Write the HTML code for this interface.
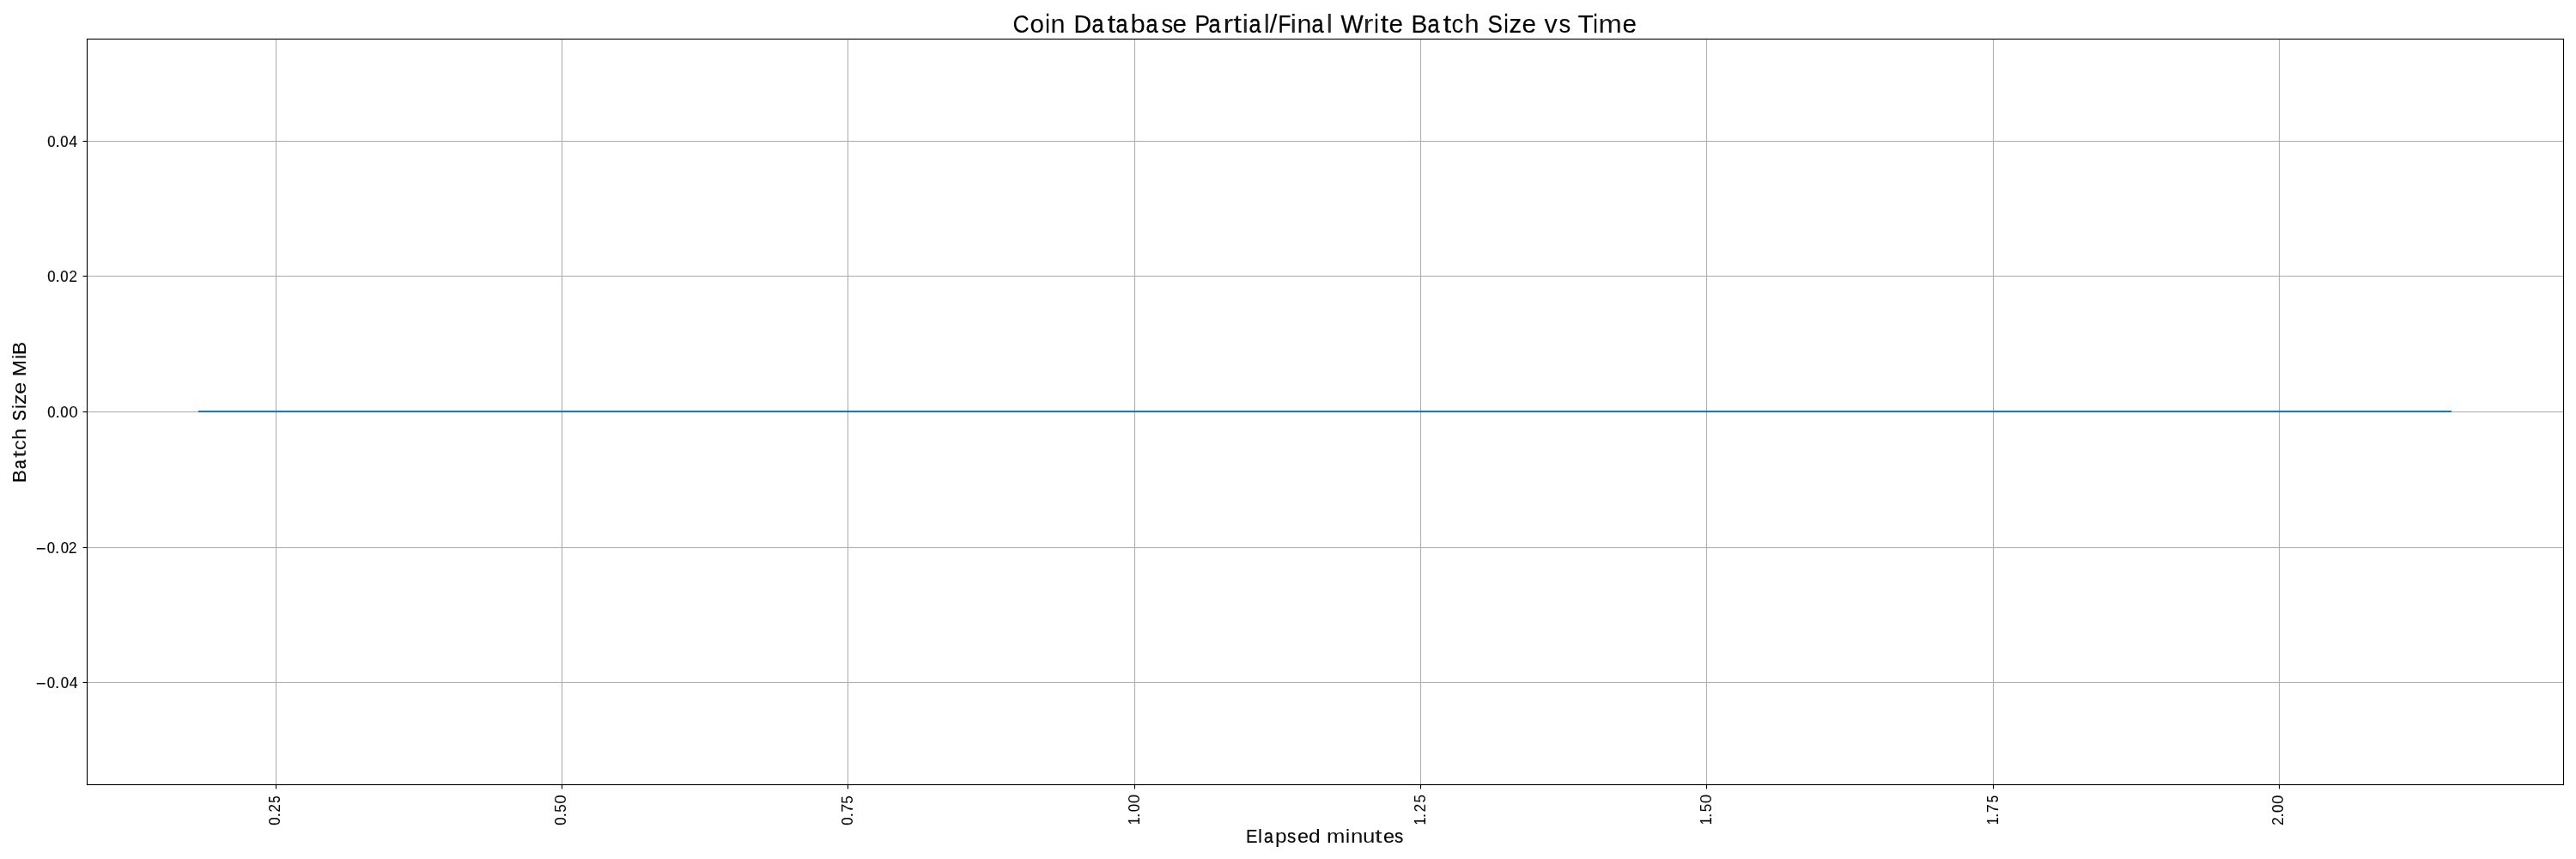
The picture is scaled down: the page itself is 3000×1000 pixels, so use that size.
<!DOCTYPE html>
<html><head><meta charset="utf-8"><title>Coin Database Partial/Final Write Batch Size vs Time</title>
<style>
html,body{margin:0;padding:0;background:#fff;}
body{width:3000px;height:1000px;overflow:hidden;position:relative;font-family:"Liberation Sans",sans-serif;color:#000;}
svg{position:absolute;left:0;top:0;display:block;}
#labels{position:absolute;left:0;top:0;width:3000px;height:1000px;will-change:transform;filter:grayscale(1);}
.lbl{position:absolute;left:0;top:0;margin:0;padding:0;white-space:nowrap;line-height:1;transform-origin:0 0;}
.w{display:inline-block;position:relative;line-height:1;transform-origin:0 0;}
</style></head>
<body>
<svg width="3000" height="1000" viewBox="0 0 3000 1000">
<!-- grid -->
<rect x="320.934" y="46.000" width="1.132" height="867.000" fill="#b0b0b0"/>
<rect x="653.934" y="46.000" width="1.132" height="867.000" fill="#b0b0b0"/>
<rect x="986.934" y="46.000" width="1.132" height="867.000" fill="#b0b0b0"/>
<rect x="1320.934" y="46.000" width="1.132" height="867.000" fill="#b0b0b0"/>
<rect x="1653.934" y="46.000" width="1.132" height="867.000" fill="#b0b0b0"/>
<rect x="1986.934" y="46.000" width="1.132" height="867.000" fill="#b0b0b0"/>
<rect x="2320.934" y="46.000" width="1.132" height="867.000" fill="#b0b0b0"/>
<rect x="2653.934" y="46.000" width="1.132" height="867.000" fill="#b0b0b0"/>
<rect x="102.000" y="163.934" width="2883.000" height="1.132" fill="#b0b0b0"/>
<rect x="102.000" y="320.934" width="2883.000" height="1.132" fill="#b0b0b0"/>
<rect x="102.000" y="478.934" width="2883.000" height="1.132" fill="#b0b0b0"/>
<rect x="102.000" y="636.934" width="2883.000" height="1.132" fill="#b0b0b0"/>
<rect x="102.000" y="793.934" width="2883.000" height="1.132" fill="#b0b0b0"/>
<!-- data line -->
<rect x="230.954" y="477.955" width="2624.092" height="2.091" fill="#1f77b4"/>
<!-- spines -->
<rect x="100.944" y="44.944" width="1.111" height="869.111" fill="#000"/>
<rect x="2984.944" y="44.944" width="1.111" height="869.111" fill="#000"/>
<rect x="100.944" y="44.944" width="2885.111" height="1.111" fill="#000"/>
<rect x="100.944" y="912.944" width="2885.111" height="1.111" fill="#000"/>
<!-- ticks -->
<rect x="320.944" y="913.500" width="1.111" height="5.000" fill="#000"/>
<rect x="653.944" y="913.500" width="1.111" height="5.000" fill="#000"/>
<rect x="986.944" y="913.500" width="1.111" height="5.000" fill="#000"/>
<rect x="1320.944" y="913.500" width="1.111" height="5.000" fill="#000"/>
<rect x="1653.944" y="913.500" width="1.111" height="5.000" fill="#000"/>
<rect x="1986.944" y="913.500" width="1.111" height="5.000" fill="#000"/>
<rect x="2320.944" y="913.500" width="1.111" height="5.000" fill="#000"/>
<rect x="2653.944" y="913.500" width="1.111" height="5.000" fill="#000"/>
<rect x="96.500" y="163.944" width="5.000" height="1.111" fill="#000"/>
<rect x="96.500" y="320.944" width="5.000" height="1.111" fill="#000"/>
<rect x="96.500" y="478.944" width="5.000" height="1.111" fill="#000"/>
<rect x="96.500" y="636.944" width="5.000" height="1.111" fill="#000"/>
<rect x="96.500" y="793.944" width="5.000" height="1.111" fill="#000"/>
</svg>
<div id="labels">
<div class="lbl title" style="font-size:29.000px;transform:translate(1180.509px,14.023px)"><span class="w" style="left:-0.872px;transform:scaleX(0.9256);color:rgb(3,3,3)">C</span><span class="w" style="left:-1.707px;transform:scaleX(1.0224);-webkit-text-stroke:0.057px currentColor">o</span><span class="w" style="left:-0.125px;transform:scaleX(0.7847);-webkit-text-stroke:0.350px currentColor">i</span><span class="w" style="left:-0.088px;transform:scaleX(1.0553);color:rgb(11,11,11)">n</span> <span class="w" style="left:2.386px;transform:scaleX(0.9897);-webkit-text-stroke:0.159px currentColor">D</span><span class="w" style="left:2.713px;transform:scaleX(0.8727);-webkit-text-stroke:0.346px currentColor">a</span><span class="w" style="left:4.114px;transform:scaleX(1.2153);color:rgb(6,6,6)">t</span><span class="w" style="left:6.510px;transform:scaleX(0.8727);-webkit-text-stroke:0.346px currentColor">a</span><span class="w" style="left:7.438px;transform:scaleX(1.0735);color:rgb(6,6,6)">b</span><span class="w" style="left:9.228px;transform:scaleX(0.8727);-webkit-text-stroke:0.347px currentColor">a</span><span class="w" style="left:10.397px;transform:scaleX(0.9490);-webkit-text-stroke:0.080px currentColor">s</span><span class="w" style="left:9.395px;transform:scaleX(1.0288);-webkit-text-stroke:0.089px currentColor">e</span> <span class="w" style="left:11.302px;transform:scaleX(0.9071);-webkit-text-stroke:0.113px currentColor">P</span><span class="w" style="left:8.041px;transform:scaleX(0.8727);-webkit-text-stroke:0.347px currentColor">a</span><span class="w" style="left:8.626px;transform:scaleX(1.2198);color:rgb(19,19,19)">rt</span><span class="w" style="left:12.973px;transform:scaleX(1.1770);color:rgb(37,37,37)">i</span><span class="w" style="left:14.728px;transform:scaleX(0.8727);-webkit-text-stroke:0.347px currentColor">a</span><span class="w" style="left:15.363px;transform:scaleX(1.1770);color:rgb(43,43,43)">l</span><span class="w" style="left:16.210px;transform:scaleX(1.1170);color:rgb(6,6,6)">/</span><span class="w" style="left:18.133px;transform:scaleX(0.8466);-webkit-text-stroke:0.216px currentColor">F</span><span class="w" style="left:14.145px;transform:scaleX(1.1770);color:rgb(37,37,37)">i</span><span class="w" style="left:15.943px;transform:scaleX(1.0553);color:rgb(11,11,11)">n</span><span class="w" style="left:16.760px;transform:scaleX(0.8727);-webkit-text-stroke:0.346px currentColor">a</span><span class="w" style="left:17.394px;transform:scaleX(1.1770);color:rgb(43,43,43)">l</span> <span class="w" style="left:20.056px;transform:scaleX(0.9578);-webkit-text-stroke:0.251px currentColor">W</span><span class="w" style="left:18.413px;transform:scaleX(1.2414);color:rgb(38,38,38)">r</span><span class="w" style="left:21.609px;transform:scaleX(0.7847);-webkit-text-stroke:0.350px currentColor">i</span><span class="w" style="left:22.145px;transform:scaleX(1.2153);color:rgb(6,6,6)">t</span><span class="w" style="left:24.349px;transform:scaleX(1.0288);-webkit-text-stroke:0.101px currentColor">e</span> <span class="w" style="left:26.101px;transform:scaleX(0.9718);-webkit-text-stroke:0.079px currentColor">B</span><span class="w" style="left:25.994px;transform:scaleX(0.8727);-webkit-text-stroke:0.346px currentColor">a</span><span class="w" style="left:27.395px;transform:scaleX(1.2153);color:rgb(6,6,6)">t</span><span class="w" style="left:29.684px;transform:scaleX(0.9597);color:rgb(5,5,5)">c</span><span class="w" style="left:30.229px;transform:scaleX(1.0626);color:rgb(14,14,14)">h</span> <span class="w" style="left:32.980px;transform:scaleX(0.8985);-webkit-text-stroke:0.221px currentColor">S</span><span class="w" style="left:32.297px;transform:scaleX(0.7847);-webkit-text-stroke:0.350px currentColor">i</span><span class="w" style="left:32.179px;transform:scaleX(1.0101);-webkit-text-stroke:0.231px currentColor">z</span><span class="w" style="left:32.599px;transform:scaleX(1.0288);-webkit-text-stroke:0.102px currentColor">e</span> <span class="w" style="left:34.559px;transform:scaleX(1.0488);-webkit-text-stroke:0.039px currentColor">v</span><span class="w" style="left:36.397px;transform:scaleX(0.9490);-webkit-text-stroke:0.079px currentColor">s</span> <span class="w" style="left:35.925px;transform:scaleX(1.0367);-webkit-text-stroke:0.049px currentColor">T</span><span class="w" style="left:36.359px;transform:scaleX(0.7847);-webkit-text-stroke:0.350px currentColor">i</span><span class="w" style="left:36.249px;transform:scaleX(1.1319);color:rgb(21,21,21)">m</span><span class="w" style="left:39.989px;transform:scaleX(1.0288);-webkit-text-stroke:0.088px currentColor">e</span></div>
<div class="lbl xlabel" style="font-size:22.800px;transform:translate(1451.036px,962.030px)"><span class="w" style="left:0.299px;transform:scaleX(0.8902);-webkit-text-stroke:0.086px currentColor">E</span><span class="w" style="left:-0.788px;transform:scaleX(0.9981);-webkit-text-stroke:0.014px currentColor">l</span><span class="w" style="left:0.840px;transform:scaleX(0.8538);-webkit-text-stroke:0.335px currentColor">a</span><span class="w" style="left:1.403px;transform:scaleX(1.0728);color:rgb(7,7,7)">p</span><span class="w" style="left:2.718px;transform:scaleX(0.9053);-webkit-text-stroke:0.157px currentColor">s</span><span class="w" style="left:2.890px;transform:scaleX(1.0282);-webkit-text-stroke:0.169px currentColor">e</span><span class="w" style="left:3.171px;transform:scaleX(1.0728);color:rgb(2,2,2)">d</span> <span class="w" style="left:5.461px;transform:scaleX(1.1267);color:rgb(10,10,10)">m</span><span class="w" style="left:8.645px;transform:scaleX(0.9981);-webkit-text-stroke:0.037px currentColor">i</span><span class="w" style="left:9.369px;transform:scaleX(1.1357);color:rgb(17,17,17)">n</span><span class="w" style="left:10.720px;transform:scaleX(1.1357);color:rgb(16,16,16)">u</span><span class="w" style="left:12.240px;transform:scaleX(1.3740);color:rgb(28,28,28)">t</span><span class="w" style="left:15.374px;transform:scaleX(1.0282);-webkit-text-stroke:0.169px currentColor">e</span><span class="w" style="left:16.108px;transform:scaleX(0.9053);-webkit-text-stroke:0.157px currentColor">s</span></div>
<div class="lbl ylabel" style="font-size:22.800px;transform:translate(11.030px,562.042px) rotate(-90deg)"><span class="w" style="left:0.192px;transform:scaleX(0.9889);-webkit-text-stroke:0.050px currentColor">B</span><span class="w" style="left:0.996px;transform:scaleX(0.8538);-webkit-text-stroke:0.350px currentColor">a</span><span class="w" style="left:0.662px;transform:scaleX(1.3740);color:rgb(29,29,29)">t</span><span class="w" style="left:3.807px;transform:scaleX(1.0173);color:rgb(17,17,17)">c</span><span class="w" style="left:4.742px;transform:scaleX(1.0396);color:rgb(5,5,5)">h</span> <span class="w" style="left:7.487px;transform:scaleX(0.8381);-webkit-text-stroke:0.350px currentColor">S</span><span class="w" style="left:5.614px;transform:scaleX(0.9981);-webkit-text-stroke:0.115px currentColor">i</span><span class="w" style="left:6.068px;transform:scaleX(1.0706);-webkit-text-stroke:0.059px currentColor">z</span><span class="w" style="left:6.565px;transform:scaleX(1.1216);color:rgb(5,5,5)">e</span> <span class="w" style="left:8.781px;transform:scaleX(0.9835);-webkit-text-stroke:0.143px currentColor">M</span><span class="w" style="left:9.098px;transform:scaleX(0.9981);-webkit-text-stroke:0.119px currentColor">i</span><span class="w" style="left:9.692px;transform:scaleX(0.9889);-webkit-text-stroke:0.058px currentColor">B</span></div>
<div class="lbl xtick" style="font-size:17.720px;transform:translate(312.049px,960.691px) rotate(-90deg)"><span class="w" style="left:0.037px;transform:scaleX(0.9444);-webkit-text-stroke:0.064px currentColor">0</span><span class="w" style="left:-1.086px;transform:scaleX(1.1854);color:rgb(12,12,12)">.</span><span class="w" style="left:0.027px;transform:scaleX(0.9910);color:rgb(5,5,5)">2</span><span class="w" style="left:1.459px;transform:scaleX(0.8332);-webkit-text-stroke:0.179px currentColor">5</span></div>
<div class="lbl xtick" style="font-size:17.720px;transform:translate(645.049px,960.711px) rotate(-90deg)"><span class="w" style="left:0.057px;transform:scaleX(0.9444);-webkit-text-stroke:0.064px currentColor">0</span><span class="w" style="left:-1.066px;transform:scaleX(1.1854);color:rgb(11,11,11)">.</span><span class="w" style="left:0.254px;transform:scaleX(0.9522);color:rgb(4,4,4)">5</span><span class="w" style="left:0.335px;transform:scaleX(1.0625);color:rgb(16,16,16)">0</span></div>
<div class="lbl xtick" style="font-size:17.720px;transform:translate(979.049px,960.691px) rotate(-90deg)"><span class="w" style="left:0.037px;transform:scaleX(0.9444);-webkit-text-stroke:0.064px currentColor">0</span><span class="w" style="left:-1.086px;transform:scaleX(1.1854);color:rgb(12,12,12)">.</span><span class="w" style="left:0.007px;transform:scaleX(0.9931);-webkit-text-stroke:0.041px currentColor">7</span><span class="w" style="left:0.375px;transform:scaleX(0.9522);color:rgb(4,4,4)">5</span></div>
<div class="lbl xtick" style="font-size:17.720px;transform:translate(1313.049px,960.373px) rotate(-90deg)"><span class="w" style="left:0.136px;transform:scaleX(0.9162);-webkit-text-stroke:0.112px currentColor">1</span><span class="w" style="left:-1.404px;transform:scaleX(1.1854);color:rgb(12,12,12)">.</span><span class="w" style="left:-0.062px;transform:scaleX(0.9444);-webkit-text-stroke:0.015px currentColor">0</span><span class="w" style="left:-0.003px;transform:scaleX(1.0625);color:rgb(15,15,15)">0</span></div>
<div class="lbl xtick" style="font-size:17.720px;transform:translate(1646.049px,960.375px) rotate(-90deg)"><span class="w" style="left:0.138px;transform:scaleX(0.9162);-webkit-text-stroke:0.130px currentColor">1</span><span class="w" style="left:-1.402px;transform:scaleX(1.1854);color:rgb(13,13,13)">.</span><span class="w" style="left:-0.289px;transform:scaleX(0.9910);color:rgb(5,5,5)">2</span><span class="w" style="left:1.059px;transform:scaleX(0.9522);color:rgb(5,5,5)">5</span></div>
<div class="lbl xtick" style="font-size:17.720px;transform:translate(1979.049px,960.373px) rotate(-90deg)"><span class="w" style="left:0.136px;transform:scaleX(0.9162);-webkit-text-stroke:0.134px currentColor">1</span><span class="w" style="left:-1.404px;transform:scaleX(1.1854);color:rgb(13,13,13)">.</span><span class="w" style="left:-0.084px;transform:scaleX(0.9522);color:rgb(4,4,4)">5</span><span class="w" style="left:-0.003px;transform:scaleX(1.0625);color:rgb(16,16,16)">0</span></div>
<div class="lbl xtick" style="font-size:17.720px;transform:translate(2313.049px,960.333px) rotate(-90deg)"><span class="w" style="left:0.096px;transform:scaleX(0.9162);-webkit-text-stroke:0.113px currentColor">1</span><span class="w" style="left:-1.444px;transform:scaleX(1.1854);color:rgb(12,12,12)">.</span><span class="w" style="left:-0.350px;transform:scaleX(0.9931);-webkit-text-stroke:0.039px currentColor">7</span><span class="w" style="left:1.101px;transform:scaleX(0.8332);-webkit-text-stroke:0.116px currentColor">5</span></div>
<div class="lbl xtick" style="font-size:17.720px;transform:translate(2645.049px,960.921px) rotate(-90deg)"><span class="w" style="left:0.038px;transform:scaleX(0.9910);color:rgb(4,4,4)">2</span><span class="w" style="left:-0.856px;transform:scaleX(1.1854);color:rgb(14,14,14)">.</span><span class="w" style="left:0.486px;transform:scaleX(0.9444);-webkit-text-stroke:0.074px currentColor">0</span><span class="w" style="left:0.545px;transform:scaleX(1.0625);color:rgb(16,16,16)">0</span></div>
<div class="lbl ytick" style="font-size:17.720px;transform:translate(55.293px,157.199px)"><span class="w" style="left:0.053px;transform:scaleX(0.9444);-webkit-text-stroke:0.227px currentColor">0</span><span class="w" style="left:-1.070px;transform:scaleX(1.1854);color:rgb(10,10,10)">.</span><span class="w" style="left:0.272px;transform:scaleX(0.9444);-webkit-text-stroke:0.227px currentColor">0</span><span class="w" style="left:0.656px;transform:scaleX(1.0079);-webkit-text-stroke:0.148px currentColor">4</span></div>
<div class="lbl ytick" style="font-size:17.720px;transform:translate(55.306px,314.199px)"><span class="w" style="left:0.040px;transform:scaleX(0.9444);-webkit-text-stroke:0.226px currentColor">0</span><span class="w" style="left:-1.083px;transform:scaleX(1.1854);color:rgb(10,10,10)">.</span><span class="w" style="left:0.259px;transform:scaleX(0.9444);-webkit-text-stroke:0.225px currentColor">0</span><span class="w" style="left:0.170px;transform:scaleX(0.9910);color:rgb(7,7,7)">2</span></div>
<div class="lbl ytick" style="font-size:17.720px;transform:translate(55.289px,472.199px)"><span class="w" style="left:0.057px;transform:scaleX(0.9444);-webkit-text-stroke:0.227px currentColor">0</span><span class="w" style="left:-1.066px;transform:scaleX(1.1854);color:rgb(10,10,10)">.</span><span class="w" style="left:0.276px;transform:scaleX(0.9444);-webkit-text-stroke:0.226px currentColor">0</span><span class="w" style="left:0.335px;transform:scaleX(1.0625);-webkit-text-stroke:0.057px currentColor">0</span></div>
<div class="lbl ytick" style="font-size:17.720px;transform:translate(41.735px,630.199px)"><span class="w" style="left:0.250px;transform:scale(1.1616,1.0500);color:rgb(1,1,1);-webkit-text-stroke:0.008px currentColor">−</span><span class="w" style="left:2.268px;transform:scaleX(0.9444);-webkit-text-stroke:0.179px currentColor">0</span><span class="w" style="left:2.144px;transform:scaleX(1.1854);color:rgb(10,10,10)">.</span><span class="w" style="left:3.486px;transform:scaleX(0.9444);-webkit-text-stroke:0.178px currentColor">0</span><span class="w" style="left:3.397px;transform:scaleX(0.9910);color:rgb(8,8,8)">2</span></div>
<div class="lbl ytick" style="font-size:17.720px;transform:translate(41.735px,787.199px)"><span class="w" style="left:0.250px;transform:scale(1.1616,1.0500);color:rgb(1,1,1);-webkit-text-stroke:0.008px currentColor">−</span><span class="w" style="left:2.268px;transform:scaleX(0.9444);-webkit-text-stroke:0.179px currentColor">0</span><span class="w" style="left:2.144px;transform:scaleX(1.1854);color:rgb(10,10,10)">.</span><span class="w" style="left:3.486px;transform:scaleX(0.9444);-webkit-text-stroke:0.178px currentColor">0</span><span class="w" style="left:3.871px;transform:scaleX(1.0079);-webkit-text-stroke:0.121px currentColor">4</span></div>
</div>
</body></html>
